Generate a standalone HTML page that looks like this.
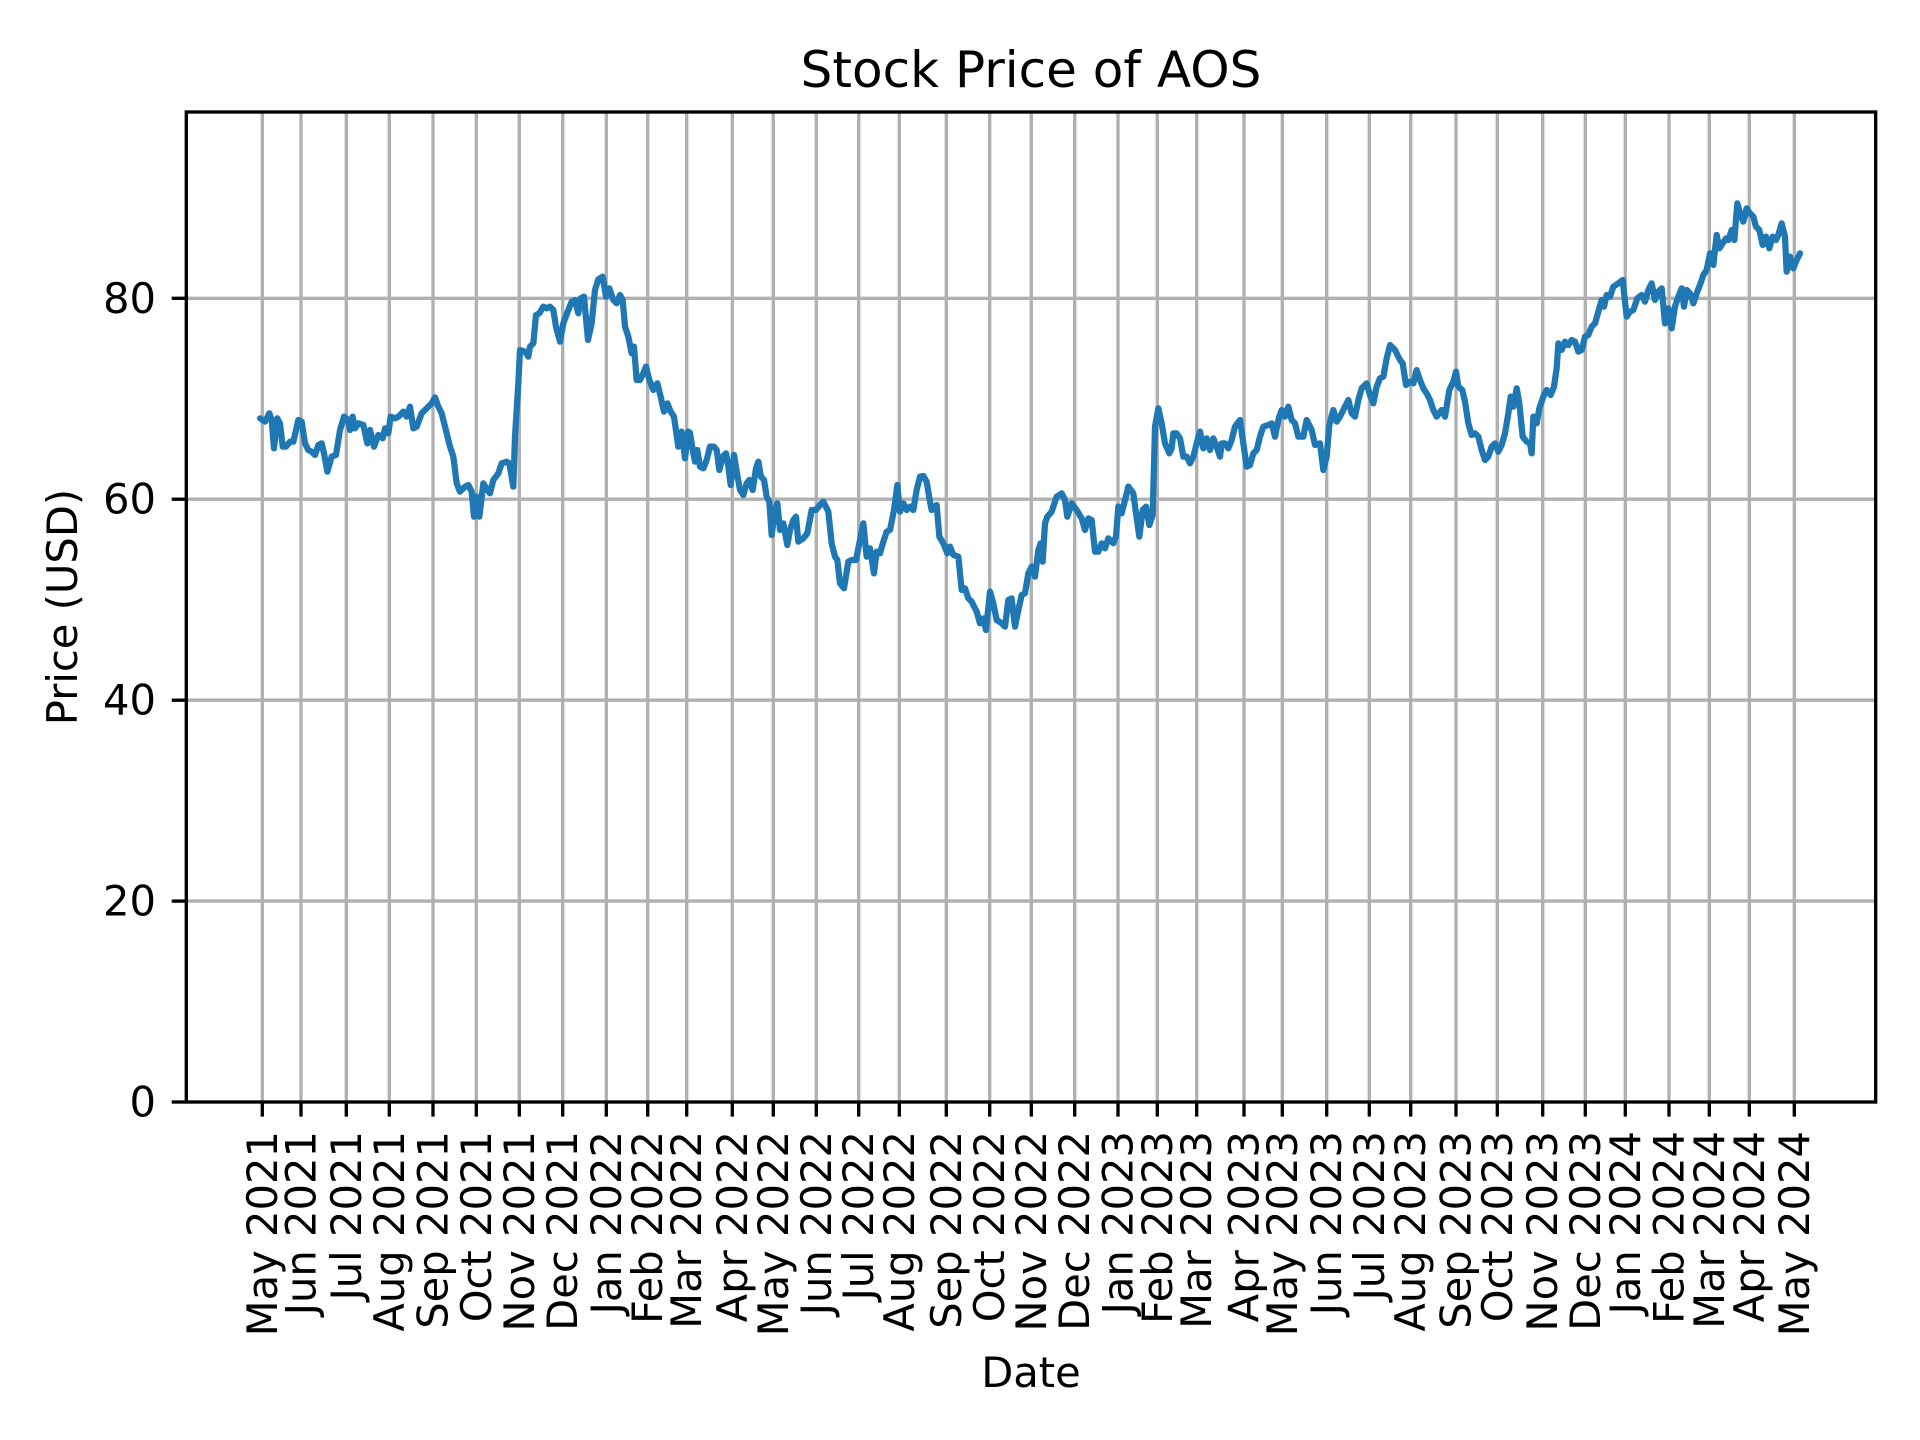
<!DOCTYPE html>
<html><head><meta charset="utf-8"><style>
html,body{margin:0;padding:0;background:#fff;}
svg{display:block;font-family:"DejaVu Sans","Liberation Sans",sans-serif;}
</style></head><body>
<svg width="1920" height="1440" viewBox="0 0 1920 1440" xmlns="http://www.w3.org/2000/svg">
<rect width="1920" height="1440" fill="#fff"/>
<g stroke="#b0b0b0" stroke-width="3.33">
<line x1="186" y1="901.1" x2="1876" y2="901.1"/>
<line x1="186" y1="700.2" x2="1876" y2="700.2"/>
<line x1="186" y1="499.2" x2="1876" y2="499.2"/>
<line x1="186" y1="298.3" x2="1876" y2="298.3"/>
</g>
<g stroke="#b0b0b0" stroke-width="3.33" id="vg">
<line x1="262.3" y1="112" x2="262.3" y2="1102"/><line x1="301" y1="112" x2="301" y2="1102"/><line x1="346.3" y1="112" x2="346.3" y2="1102"/><line x1="389.3" y1="112" x2="389.3" y2="1102"/><line x1="433" y1="112" x2="433" y2="1102"/><line x1="476.3" y1="112" x2="476.3" y2="1102"/><line x1="519.3" y1="112" x2="519.3" y2="1102"/><line x1="562.7" y1="112" x2="562.7" y2="1102"/><line x1="606.3" y1="112" x2="606.3" y2="1102"/><line x1="647.7" y1="112" x2="647.7" y2="1102"/><line x1="686.7" y1="112" x2="686.7" y2="1102"/><line x1="732.3" y1="112" x2="732.3" y2="1102"/><line x1="773.3" y1="112" x2="773.3" y2="1102"/><line x1="816.3" y1="112" x2="816.3" y2="1102"/><line x1="858.7" y1="112" x2="858.7" y2="1102"/><line x1="899.3" y1="112" x2="899.3" y2="1102"/><line x1="946.3" y1="112" x2="946.3" y2="1102"/><line x1="989.7" y1="112" x2="989.7" y2="1102"/><line x1="1031.3" y1="112" x2="1031.3" y2="1102"/><line x1="1074.7" y1="112" x2="1074.7" y2="1102"/><line x1="1118" y1="112" x2="1118" y2="1102"/><line x1="1157.3" y1="112" x2="1157.3" y2="1102"/><line x1="1196.7" y1="112" x2="1196.7" y2="1102"/><line x1="1244" y1="112" x2="1244" y2="1102"/><line x1="1282.3" y1="112" x2="1282.3" y2="1102"/><line x1="1326.7" y1="112" x2="1326.7" y2="1102"/><line x1="1369.3" y1="112" x2="1369.3" y2="1102"/><line x1="1410.7" y1="112" x2="1410.7" y2="1102"/><line x1="1456" y1="112" x2="1456" y2="1102"/><line x1="1497.3" y1="112" x2="1497.3" y2="1102"/><line x1="1542.7" y1="112" x2="1542.7" y2="1102"/><line x1="1585.3" y1="112" x2="1585.3" y2="1102"/><line x1="1625.3" y1="112" x2="1625.3" y2="1102"/><line x1="1669" y1="112" x2="1669" y2="1102"/><line x1="1709.3" y1="112" x2="1709.3" y2="1102"/><line x1="1749.3" y1="112" x2="1749.3" y2="1102"/><line x1="1794.3" y1="112" x2="1794.3" y2="1102"/>
</g>
<g fill="none" stroke="#1f77b4" stroke-width="18.75" stroke-linejoin="round" stroke-linecap="round">
<polyline transform="translate(250,190) scale(0.33333)" points="30,685 45,695 58,670 65,690 72,775 82,685 90,700 98,770 108,770 120,755 130,755 145,690 155,695 165,760 175,780 185,785 195,795 205,765 215,760 222,790 232,845 245,800 258,795 270,720 282,680 295,690 300,720 308,680 315,715 325,700 340,705 352,760 360,720 372,770 385,735 398,745 405,715 415,730 422,680 435,685 445,680 460,665 470,680 480,650 490,715 500,710 515,670 525,660 535,650 545,640 555,622 565,650 575,670 585,710 600,770 610,800 620,880 630,905 645,890 655,885 665,905 672,980 680,920 688,980 700,880 712,900 720,910 730,870 745,850 755,820 770,815 778,820 790,890 795,740 805,580 810,480 825,485 835,500 840,470 850,460 858,375 868,370 880,350 890,355 900,350 910,360 918,410 930,455 940,400 955,360 965,335 975,330 985,370 992,325 1002,320 1014,450 1025,400 1035,300 1045,268 1058,260 1068,320 1078,295 1090,330 1100,340 1110,315 1118,330 1125,410 1135,440 1145,490 1152,470 1160,570 1170,570 1180,550 1188,530 1198,570 1210,600 1222,580 1232,620 1242,665 1252,640 1262,665 1272,680 1285,770 1295,725 1305,805 1315,725 1320,728"/>
<polyline transform="translate(690,190) scale(0.33333)" points="0,730 10,790 15,815 22,780 30,830 40,835 50,810 60,770 72,770 80,780 88,840 98,800 108,790 115,830 122,885 132,795 140,845 150,900 160,915 170,880 178,870 188,900 198,835 205,815 213,860 222,870 230,920 238,935 245,1035 255,960 262,940 270,1020 280,1000 292,1065 300,1020 310,990 318,980 325,1055 340,1045 352,1030 365,960 378,960 390,945 400,935 415,965 425,1060 435,1100 442,1110 450,1180 462,1195 475,1115 485,1110 498,1110 510,1050 520,1000 530,1100 540,1075 552,1150 560,1085 570,1090 580,1055 590,1025 600,1020 612,960 622,885 630,965 640,940 650,960 660,950 670,960 680,900 690,860 700,858 710,875 720,935 725,960 740,945 748,1040 760,1060 772,1090 780,1070 790,1095 805,1100 815,1200 825,1195 835,1225 845,1235 860,1265 870,1300 880,1285 888,1320 900,1205 910,1240 920,1290 935,1300 945,1310 955,1230 965,1225 975,1310 985,1260 995,1215 1005,1210 1015,1150 1025,1130 1035,1160 1045,1080 1052,1060 1058,1115 1065,1000 1072,980 1085,965 1100,920 1115,910 1125,930 1132,980 1145,940 1160,960 1175,985 1185,1020 1195,985 1205,990 1215,1085 1225,1085 1235,1060 1245,1075 1255,1045 1270,1060 1278,1040 1285,950 1295,970 1305,930 1315,890"/>
<polyline transform="translate(1130,190) scale(0.33333)" points="-5,890 10,910 18,970 28,1040 38,960 48,950 58,1005 68,975 75,710 85,655 95,700 105,760 118,790 125,775 130,730 140,730 150,745 160,800 170,800 180,820 190,800 200,760 210,725 220,775 230,745 240,780 250,745 260,770 270,800 275,760 285,760 295,775 305,750 315,710 322,700 330,690 340,760 350,830 360,825 370,790 380,780 390,740 400,710 415,705 425,700 435,740 445,690 455,660 465,680 475,650 485,690 495,700 505,740 520,740 530,690 545,720 555,765 570,760 580,840 590,800 598,705 610,660 620,695 630,680 645,650 655,630 665,670 675,680 685,630 695,595 710,580 720,615 730,640 740,590 750,565 760,560 770,505 780,465 795,480 810,510 818,520 828,585 840,575 850,580 860,540 870,570 880,595 890,610 900,630 910,660 920,680 935,660 945,680 958,600 970,575 978,545 985,590 997,600 1005,635 1015,700 1025,735 1035,730 1045,740 1055,780 1065,810 1075,800 1085,770 1095,760 1105,785 1115,765 1125,730 1135,670 1142,620 1150,650 1160,595 1168,640 1178,740 1190,755 1200,760 1205,790 1210,680 1220,700 1228,655 1240,620 1250,600 1262,615 1272,590 1280,535 1285,460 1295,480 1305,455 1315,465"/>
<polyline transform="translate(1400,160) scale(0.33333)" points="505,555 515,540 525,545 535,575 545,570 555,530 565,525 575,500 585,490 595,455 605,420 612,440 620,405 630,410 640,380 655,370 668,360 680,470 690,455 700,450 712,415 725,405 735,425 745,390 755,370 765,420 775,395 785,385 795,490 805,445 815,505 825,440 835,410 845,385 852,440 860,390 870,400 880,430 890,400 900,375 910,345 920,330 930,280 940,315 950,225 958,265 968,250 978,235 985,240 995,210 1003,240 1012,130 1022,165 1030,185 1040,145 1050,160 1060,170 1068,200 1078,210 1088,255 1098,230 1108,265 1118,230 1128,240 1135,225 1145,190 1155,230 1160,335 1170,290 1180,325 1190,300 1200,280"/>
</g>
<rect x="186.3" y="112" width="1689.4" height="990" fill="none" stroke="#000" stroke-width="3.33"/>
<g stroke="#000" stroke-width="3.33">
<line x1="171.7" y1="1102" x2="186.3" y2="1102"/><line x1="171.7" y1="901.1" x2="186.3" y2="901.1"/><line x1="171.7" y1="700.2" x2="186.3" y2="700.2"/><line x1="171.7" y1="499.2" x2="186.3" y2="499.2"/><line x1="171.7" y1="298.3" x2="186.3" y2="298.3"/>
</g>
<g font-size="41.67" fill="#000" text-anchor="end" dominant-baseline="central">
<text x="156" y="1102">0</text><text x="156" y="901.1">20</text><text x="156" y="700.2">40</text><text x="156" y="499.2">60</text><text x="156" y="298.3">80</text>
</g>
<g id="xt" stroke="#000" stroke-width="3.33"></g>
<g font-size="41.67" fill="#000" text-anchor="end" dominant-baseline="central">
<line x1="262.3" y1="1102" x2="262.3" y2="1116.6" stroke="#000" stroke-width="3.33"/><text transform="translate(262.3,1131) rotate(-90)">May 2021</text>
<line x1="301" y1="1102" x2="301" y2="1116.6" stroke="#000" stroke-width="3.33"/><text transform="translate(301,1131) rotate(-90)">Jun 2021</text>
<line x1="346.3" y1="1102" x2="346.3" y2="1116.6" stroke="#000" stroke-width="3.33"/><text transform="translate(346.3,1131) rotate(-90)">Jul 2021</text>
<line x1="389.3" y1="1102" x2="389.3" y2="1116.6" stroke="#000" stroke-width="3.33"/><text transform="translate(389.3,1131) rotate(-90)">Aug 2021</text>
<line x1="433" y1="1102" x2="433" y2="1116.6" stroke="#000" stroke-width="3.33"/><text transform="translate(433,1131) rotate(-90)">Sep 2021</text>
<line x1="476.3" y1="1102" x2="476.3" y2="1116.6" stroke="#000" stroke-width="3.33"/><text transform="translate(476.3,1131) rotate(-90)">Oct 2021</text>
<line x1="519.3" y1="1102" x2="519.3" y2="1116.6" stroke="#000" stroke-width="3.33"/><text transform="translate(519.3,1131) rotate(-90)">Nov 2021</text>
<line x1="562.7" y1="1102" x2="562.7" y2="1116.6" stroke="#000" stroke-width="3.33"/><text transform="translate(562.7,1131) rotate(-90)">Dec 2021</text>
<line x1="606.3" y1="1102" x2="606.3" y2="1116.6" stroke="#000" stroke-width="3.33"/><text transform="translate(606.3,1131) rotate(-90)">Jan 2022</text>
<line x1="647.7" y1="1102" x2="647.7" y2="1116.6" stroke="#000" stroke-width="3.33"/><text transform="translate(647.7,1131) rotate(-90)">Feb 2022</text>
<line x1="686.7" y1="1102" x2="686.7" y2="1116.6" stroke="#000" stroke-width="3.33"/><text transform="translate(686.7,1131) rotate(-90)">Mar 2022</text>
<line x1="732.3" y1="1102" x2="732.3" y2="1116.6" stroke="#000" stroke-width="3.33"/><text transform="translate(732.3,1131) rotate(-90)">Apr 2022</text>
<line x1="773.3" y1="1102" x2="773.3" y2="1116.6" stroke="#000" stroke-width="3.33"/><text transform="translate(773.3,1131) rotate(-90)">May 2022</text>
<line x1="816.3" y1="1102" x2="816.3" y2="1116.6" stroke="#000" stroke-width="3.33"/><text transform="translate(816.3,1131) rotate(-90)">Jun 2022</text>
<line x1="858.7" y1="1102" x2="858.7" y2="1116.6" stroke="#000" stroke-width="3.33"/><text transform="translate(858.7,1131) rotate(-90)">Jul 2022</text>
<line x1="899.3" y1="1102" x2="899.3" y2="1116.6" stroke="#000" stroke-width="3.33"/><text transform="translate(899.3,1131) rotate(-90)">Aug 2022</text>
<line x1="946.3" y1="1102" x2="946.3" y2="1116.6" stroke="#000" stroke-width="3.33"/><text transform="translate(946.3,1131) rotate(-90)">Sep 2022</text>
<line x1="989.7" y1="1102" x2="989.7" y2="1116.6" stroke="#000" stroke-width="3.33"/><text transform="translate(989.7,1131) rotate(-90)">Oct 2022</text>
<line x1="1031.3" y1="1102" x2="1031.3" y2="1116.6" stroke="#000" stroke-width="3.33"/><text transform="translate(1031.3,1131) rotate(-90)">Nov 2022</text>
<line x1="1074.7" y1="1102" x2="1074.7" y2="1116.6" stroke="#000" stroke-width="3.33"/><text transform="translate(1074.7,1131) rotate(-90)">Dec 2022</text>
<line x1="1118" y1="1102" x2="1118" y2="1116.6" stroke="#000" stroke-width="3.33"/><text transform="translate(1118,1131) rotate(-90)">Jan 2023</text>
<line x1="1157.3" y1="1102" x2="1157.3" y2="1116.6" stroke="#000" stroke-width="3.33"/><text transform="translate(1157.3,1131) rotate(-90)">Feb 2023</text>
<line x1="1196.7" y1="1102" x2="1196.7" y2="1116.6" stroke="#000" stroke-width="3.33"/><text transform="translate(1196.7,1131) rotate(-90)">Mar 2023</text>
<line x1="1244" y1="1102" x2="1244" y2="1116.6" stroke="#000" stroke-width="3.33"/><text transform="translate(1244,1131) rotate(-90)">Apr 2023</text>
<line x1="1282.3" y1="1102" x2="1282.3" y2="1116.6" stroke="#000" stroke-width="3.33"/><text transform="translate(1282.3,1131) rotate(-90)">May 2023</text>
<line x1="1326.7" y1="1102" x2="1326.7" y2="1116.6" stroke="#000" stroke-width="3.33"/><text transform="translate(1326.7,1131) rotate(-90)">Jun 2023</text>
<line x1="1369.3" y1="1102" x2="1369.3" y2="1116.6" stroke="#000" stroke-width="3.33"/><text transform="translate(1369.3,1131) rotate(-90)">Jul 2023</text>
<line x1="1410.7" y1="1102" x2="1410.7" y2="1116.6" stroke="#000" stroke-width="3.33"/><text transform="translate(1410.7,1131) rotate(-90)">Aug 2023</text>
<line x1="1456" y1="1102" x2="1456" y2="1116.6" stroke="#000" stroke-width="3.33"/><text transform="translate(1456,1131) rotate(-90)">Sep 2023</text>
<line x1="1497.3" y1="1102" x2="1497.3" y2="1116.6" stroke="#000" stroke-width="3.33"/><text transform="translate(1497.3,1131) rotate(-90)">Oct 2023</text>
<line x1="1542.7" y1="1102" x2="1542.7" y2="1116.6" stroke="#000" stroke-width="3.33"/><text transform="translate(1542.7,1131) rotate(-90)">Nov 2023</text>
<line x1="1585.3" y1="1102" x2="1585.3" y2="1116.6" stroke="#000" stroke-width="3.33"/><text transform="translate(1585.3,1131) rotate(-90)">Dec 2023</text>
<line x1="1625.3" y1="1102" x2="1625.3" y2="1116.6" stroke="#000" stroke-width="3.33"/><text transform="translate(1625.3,1131) rotate(-90)">Jan 2024</text>
<line x1="1669" y1="1102" x2="1669" y2="1116.6" stroke="#000" stroke-width="3.33"/><text transform="translate(1669,1131) rotate(-90)">Feb 2024</text>
<line x1="1709.3" y1="1102" x2="1709.3" y2="1116.6" stroke="#000" stroke-width="3.33"/><text transform="translate(1709.3,1131) rotate(-90)">Mar 2024</text>
<line x1="1749.3" y1="1102" x2="1749.3" y2="1116.6" stroke="#000" stroke-width="3.33"/><text transform="translate(1749.3,1131) rotate(-90)">Apr 2024</text>
<line x1="1794.3" y1="1102" x2="1794.3" y2="1116.6" stroke="#000" stroke-width="3.33"/><text transform="translate(1794.3,1131) rotate(-90)">May 2024</text>
</g>
<text x="1031" y="87" font-size="50" text-anchor="middle" fill="#000">Stock Price of AOS</text>
<text x="1031" y="1387" font-size="41.67" text-anchor="middle" fill="#000">Date</text>
<text transform="translate(77,607) rotate(-90)" font-size="41.67" text-anchor="middle" fill="#000">Price (USD)</text>
</svg>
</body></html>
